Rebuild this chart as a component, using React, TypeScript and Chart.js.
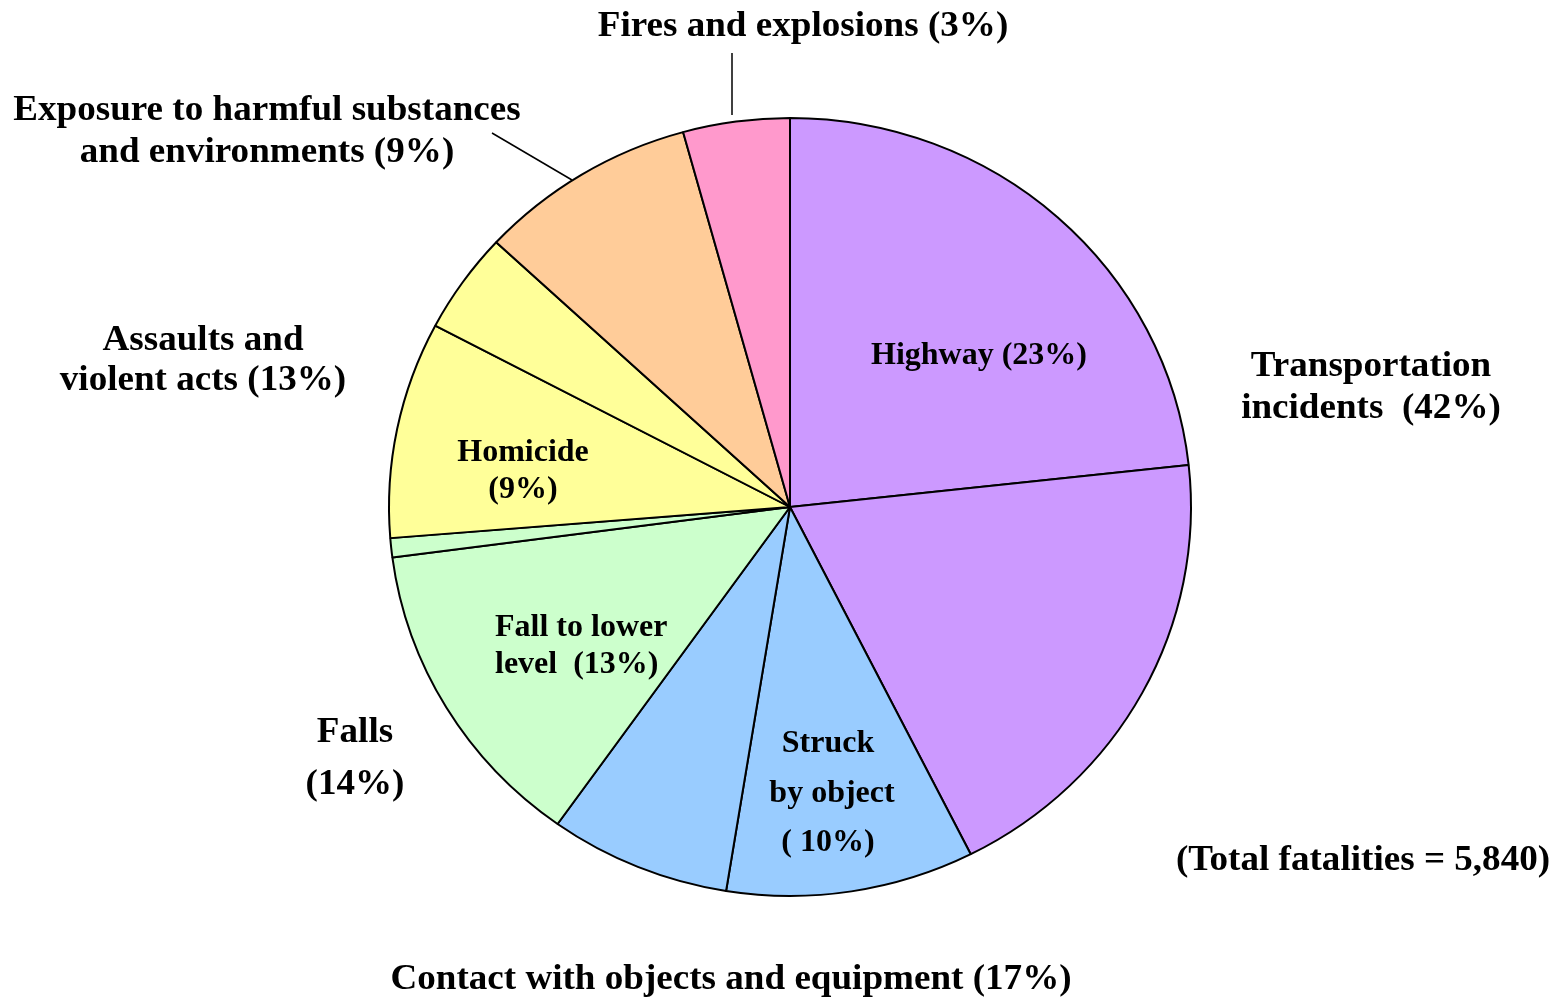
import { useEffect, useRef } from "react";
import { Chart, ArcElement, PieController } from "chart.js";

Chart.register(ArcElement, PieController);

// Slices clockwise from 12 o'clock
const categories = [
  "Highway",
  "Other transportation",
  "Struck by object",
  "Other contact with objects",
  "Fall to lower level",
  "Other falls",
  "Homicide",
  "Other assaults",
  "Exposure to harmful substances and environments",
  "Fires and explosions",
];
const shares = [23.3, 19.3, 10.0, 7.3, 13.1, 0.8, 9.0, 4.2, 8.8, 4.3];
const sliceColors = [
  "#CC99FF",
  "#CC99FF",
  "#99CCFF",
  "#99CCFF",
  "#CCFFCC",
  "#CCFFCC",
  "#FFFF99",
  "#FFFF99",
  "#FFCC99",
  "#FF99CC",
];

// Label text lines (offsets relative to pie centre)
type Lbl = { t: string; dx: number; dy: number; outer: boolean; align: CanvasTextAlign };
const labels: Lbl[] = [
  { t: "Fires and explosions (3%)", dx: 13, dy: -471, outer: true, align: "center" },
  { t: "Exposure to harmful substances", dx: -523, dy: -387, outer: true, align: "center" },
  { t: "and environments (9%)", dx: -523, dy: -345, outer: true, align: "center" },
  { t: "Assaults and", dx: -587, dy: -157, outer: true, align: "center" },
  { t: "violent acts (13%)", dx: -587, dy: -117, outer: true, align: "center" },
  { t: "Transportation", dx: 581, dy: -131, outer: true, align: "center" },
  { t: "incidents  (42%)", dx: 581, dy: -89, outer: true, align: "center" },
  { t: "Falls", dx: -435, dy: 235, outer: true, align: "center" },
  { t: "(14%)", dx: -435, dy: 287, outer: true, align: "center" },
  { t: "(Total fatalities = 5,840)", dx: 573, dy: 363, outer: true, align: "center" },
  { t: "Contact with objects and equipment (17%)", dx: -59, dy: 482, outer: true, align: "center" },
  { t: "Highway (23%)", dx: 189, dy: -143, outer: false, align: "center" },
  { t: "Homicide", dx: -267, dy: -46, outer: false, align: "center" },
  { t: "(9%)", dx: -267, dy: -9, outer: false, align: "center" },
  { t: "Fall to lower", dx: -295, dy: 129, outer: false, align: "left" },
  { t: "level  (13%)", dx: -295, dy: 166, outer: false, align: "left" },
  { t: "Struck", dx: 38, dy: 245, outer: false, align: "center" },
  { t: "by object", dx: 42, dy: 295, outer: false, align: "center" },
  { t: "( 10%)", dx: 38, dy: 344, outer: false, align: "center" },
];

const leaders = [
  { x1: -58, y1: -454, x2: -58, y2: -392 },
  { x1: -298, y1: -374, x2: -218, y2: -327 },
];

const RX = 401;
const RY = 389;

const squash = {
  id: "squash",
  beforeDatasetsDraw(chart: any) {
    const a = chart.getDatasetMeta(0).data[0];
    const ctx = chart.ctx;
    ctx.save();
    ctx.translate(a.x, a.y);
    ctx.scale(1, RY / RX);
    ctx.translate(-a.x, -a.y);
  },
  afterDatasetsDraw(chart: any) {
    chart.ctx.restore();
  },
};

const labelPlugin = {
  id: "labelPlugin",
  afterDraw(chart: any) {
    const a = chart.getDatasetMeta(0).data[0];
    const cx = a.x;
    const cy = a.y;
    const ctx: CanvasRenderingContext2D = chart.ctx;
    ctx.save();
    ctx.strokeStyle = "#000";
    ctx.lineWidth = 1.5;
    for (const l of leaders) {
      ctx.beginPath();
      ctx.moveTo(cx + l.x1, cy + l.y1);
      ctx.lineTo(cx + l.x2, cy + l.y2);
      ctx.stroke();
    }
    ctx.fillStyle = "#000";
    ctx.textBaseline = "alphabetic";
    for (const l of labels) {
      const size = l.outer ? 35 : 32;
      const sx = l.outer ? 1.06 : 1;
      ctx.save();
      ctx.font = `bold ${size}px "Liberation Serif", "Times New Roman", serif`;
      ctx.textAlign = l.align;
      ctx.translate(cx + l.dx, cy + l.dy);
      ctx.scale(sx, 1);
      ctx.fillText(l.t, 0, 0);
      ctx.restore();
    }
    ctx.restore();
  },
};

export default function App() {
  const ref = useRef<HTMLCanvasElement | null>(null);
  useEffect(() => {
    document.body.style.margin = "0";
    const canvas = ref.current;
    if (!canvas) return;
    const chart = new Chart(canvas, {
      type: "pie",
      data: {
        labels: categories,
        datasets: [
          {
            data: shares,
            backgroundColor: sliceColors,
            borderColor: "#000000",
            borderWidth: 2,
            hoverOffset: 0,
          },
        ],
      },
      options: {
        responsive: false,
        animation: false,
        devicePixelRatio: 1,
        radius: RX,
        layout: { padding: { left: 15, right: 0, top: 17, bottom: 0 } },
        plugins: { legend: { display: false }, tooltip: { enabled: false } },
        events: [],
      } as any,
      plugins: [squash, labelPlugin],
    });
    return () => chart.destroy();
  }, []);
  return (
    <div style={{ position: "absolute", left: 0, top: 0, width: 1565, height: 997, background: "#fff" }}>
      <canvas ref={ref} width={1565} height={997} style={{ width: 1565, height: 997, display: "block" }} />
    </div>
  );
}
